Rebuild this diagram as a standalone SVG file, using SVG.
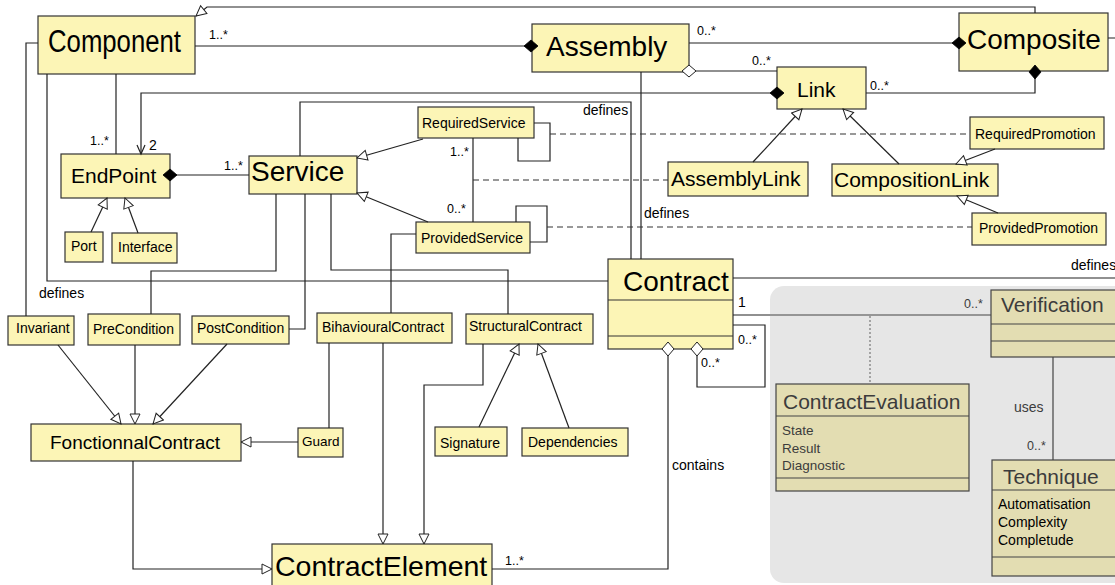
<svg xmlns="http://www.w3.org/2000/svg" width="1115" height="585" viewBox="0 0 1115 585">
<style>
text{font-family:"Liberation Sans",Arial,sans-serif;fill:#000}
.box{fill:#fcf5b6;stroke:#333;stroke-width:1.2}
.dim{fill:#e3ddb2;stroke:#444;stroke-width:1.2}
.sep{stroke:#333;stroke-width:1.2}
.dsep{stroke:#444;stroke-width:1.2}
.c{fill:none;stroke:#222;stroke-width:1.2}
.cg{fill:none;stroke:#444;stroke-width:1.2}
.dash{fill:none;stroke:#333;stroke-width:1.2;stroke-dasharray:6 4}
.dot{fill:none;stroke:#777;stroke-width:1.2;stroke-dasharray:2 2}
.g{fill:#3c3c3c}
.m{font-size:12.5px}
.l{font-size:14px}
.s14{font-size:14px}
.s21{font-size:21px}
.s28{font-size:28px}
</style>
<defs>
<marker id="tri" markerUnits="userSpaceOnUse" markerWidth="14" markerHeight="14" refX="11" refY="6" orient="auto"><path d="M1,1 L11,6 L1,11 z" fill="#fff" stroke="#222" stroke-width="1"/></marker>
<marker id="dia" markerUnits="userSpaceOnUse" markerWidth="18" markerHeight="14" refX="8" refY="7" orient="auto"><path d="M1,7 L8,1 L15,7 L8,13 z" fill="#000" stroke="#000" stroke-width="0.8"/></marker>
<marker id="hdia" markerUnits="userSpaceOnUse" markerWidth="18" markerHeight="14" refX="8" refY="7" orient="auto"><path d="M1,7 L8,1 L15,7 L8,13 z" fill="#fff" stroke="#222" stroke-width="1"/></marker>
<marker id="open" markerUnits="userSpaceOnUse" markerWidth="14" markerHeight="12" refX="10" refY="5" orient="auto"><path d="M1,1 L10,5 L1,9" fill="none" stroke="#222" stroke-width="1.2"/></marker>
</defs>
<rect x="0" y="0" width="1115" height="585" fill="#fff"/>
<rect id="panel" x="770" y="286" width="370" height="297" rx="14" fill="#e6e6e6"/>

<g id="Component"><rect class="box" x="38" y="16" width="157" height="58"/><text x="48" y="52" font-size="31" textLength="133" lengthAdjust="spacingAndGlyphs">Component</text></g>
<g id="Assembly"><rect class="box" x="532" y="24" width="157" height="48"/><text class="s28" x="546" y="56">Assembly</text></g>
<g id="Composite"><rect class="box" x="959" y="13" width="149" height="58"/><text class="s28" x="967" y="49">Composite</text></g>
<g id="Link"><rect class="box" x="777" y="67" width="89" height="42"/><text x="797" y="97" font-size="21">Link</text></g>
<g id="EndPoint"><rect class="box" x="61" y="154" width="109" height="44"/><text class="s21" x="71" y="183">EndPoint</text></g>
<g id="Service"><rect class="box" x="249" y="156" width="108" height="38"/><text class="s28" x="251" y="181">Service</text></g>
<g id="RequiredService"><rect class="box" x="418" y="107" width="116" height="31"/><text class="s14" x="422" y="128">RequiredService</text></g>
<g id="ProvidedService"><rect class="box" x="416" y="222" width="114" height="31"/><text class="s14" x="421" y="243">ProvidedService</text></g>
<g id="AssemblyLink"><rect class="box" x="668" y="162" width="140" height="34"/><text class="s21" x="671" y="186">AssemblyLink</text></g>
<g id="CompositionLink"><rect class="box" x="832" y="164" width="166" height="32"/><text class="s21" x="834" y="187">CompositionLink</text></g>
<g id="RequiredPromotion"><rect class="box" x="970" y="117" width="134" height="32"/><text class="s14" x="975" y="139">RequiredPromotion</text></g>
<g id="ProvidedPromotion"><rect class="box" x="972" y="213" width="134" height="32"/><text class="s14" x="979" y="233">ProvidedPromotion</text></g>
<g id="Port"><rect class="box" x="65" y="232" width="38" height="30"/><text class="s14" x="71" y="251">Port</text></g>
<g id="Interface"><rect class="box" x="112" y="233" width="65" height="30"/><text class="s14" x="118" y="252">Interface</text></g>
<g id="Invariant"><rect class="box" x="8" y="316" width="66" height="29"/><text class="s14" x="16" y="333">Invariant</text></g>
<g id="PreCondition"><rect class="box" x="88" y="314" width="92" height="31"/><text class="s14" x="93" y="334">PreCondition</text></g>
<g id="PostCondition"><rect class="box" x="192" y="316" width="97" height="28"/><text class="s14" x="197" y="333">PostCondition</text></g>
<g id="BihaviouralContract"><rect class="box" x="317" y="313" width="135" height="30"/><text class="s14" x="322" y="332">BihaviouralContract</text></g>
<g id="StructuralContract"><rect class="box" x="466" y="314" width="127" height="30"/><text class="s14" x="469" y="331">StructuralContract</text></g>
<g id="FonctionnalContract"><rect class="box" x="31" y="424" width="210" height="37"/><text x="50" y="449" font-size="19">FonctionnalContract</text></g>
<g id="Guard"><rect class="box" x="298" y="428" width="45" height="29"/><text x="302" y="446" font-size="13.5">Guard</text></g>
<g id="Signature"><rect class="box" x="435" y="427" width="72" height="29"/><text class="s14" x="440" y="448">Signature</text></g>
<g id="Dependencies"><rect class="box" x="522" y="428" width="106" height="28"/><text class="s14" x="528" y="447">Dependencies</text></g>
<g id="ContractElement"><rect class="box" x="272" y="544" width="220" height="50"/><text x="275" y="576" font-size="28.5">ContractElement</text></g>
<g id="Contract"><rect class="box" x="608" y="259" width="125" height="90"/><line class="sep" x1="608" y1="300" x2="733" y2="300"/><line class="sep" x1="608" y1="336" x2="733" y2="336"/><text class="s28" x="623" y="291">Contract</text></g>
<g id="Verification"><rect class="dim" x="991" y="290" width="140" height="67"/><line class="dsep" x1="991" y1="324" x2="1131" y2="324"/><line class="dsep" x1="991" y1="341" x2="1131" y2="341"/><text class="s21 g" x="1001" y="312">Verification</text></g>
<g id="ContractEvaluation"><rect class="dim" x="776" y="384" width="193" height="107"/><line class="dsep" x1="776" y1="416" x2="969" y2="416"/><line class="dsep" x1="776" y1="478" x2="969" y2="478"/><text class="s21 g" x="783" y="409">ContractEvaluation</text><text class="g" x="782" y="435" font-size="13.5">State</text><text class="g" x="782" y="453" font-size="13.5">Result</text><text class="g" x="782" y="470" font-size="13.5">Diagnostic</text></g>
<g id="Technique"><rect class="dim" x="992" y="460" width="140" height="116"/><line class="dsep" x1="992" y1="490" x2="1132" y2="490"/><line class="dsep" x1="992" y1="557" x2="1132" y2="557"/><text class="s21 g" x="1003" y="484">Technique</text><text class="s14" x="998" y="509" fill="#111">Automatisation</text><text class="s14" x="998" y="527">Complexity</text><text class="s14" x="998" y="545">Completude</text></g>

<g id="connectors">
<path class="c" d="M1035,13 L1035,7 L207,7 L196,16" marker-end="url(#tri)"/>
<path class="c" d="M195,46 L531,46" marker-end="url(#dia)"/>
<path class="c" d="M689,43 L959,43" marker-end="url(#dia)"/>
<path class="c" d="M689,71 L777,71" marker-start="url(#hdia)"/>
<path class="c" d="M866,93 L1035,93 L1035,72" marker-end="url(#dia)"/>
<path class="c" d="M777,93 L141,93 L141,154" marker-start="url(#dia)" marker-end="url(#open)"/>
<path class="c" d="M116,74 L116,154"/>
<path class="c" d="M170,175 L249,175" marker-start="url(#dia)"/>
<path class="c" d="M38,43 L26,43 L26,316"/>
<path class="c" d="M47,74 L47,281 L608,281"/>
<path class="c" d="M300,156 L300,102 L631,102 L631,259"/>
<path class="c" d="M641,72 L641,259"/>
<path class="c" d="M733,278 L1130,278 L1130,38 L1108,38"/>
<path class="c" d="M423,139 L357,158" marker-end="url(#tri)"/>
<path class="c" d="M428,222 L357,193" marker-end="url(#tri)"/>
<path class="c" d="M473,138 L473,222"/>
<path class="dash" d="M473,180 L668,180"/>
<path class="c" d="M534,123 L550,123 L550,161 L518,161 L518,138"/>
<path class="dash" d="M550,134 L970,134"/>
<path class="c" d="M530,242 L547,242 L547,206 L516,206 L516,222"/>
<path class="dash" d="M547,227 L972,227"/>
<path class="c" d="M753,162 L802,109" marker-end="url(#tri)"/>
<path class="c" d="M899,164 L843,109" marker-end="url(#tri)"/>
<path class="c" d="M995,149 L956,164" marker-end="url(#tri)"/>
<path class="c" d="M998,213 L957,196" marker-end="url(#tri)"/>
<path class="c" d="M91,232 L107,198" marker-end="url(#tri)"/>
<path class="c" d="M138,233 L125,198" marker-end="url(#tri)"/>
<path class="c" d="M276,194 L276,271 L151,271 L151,314"/>
<path class="c" d="M305,194 L305,329 L289,329"/>
<path class="c" d="M331,194 L331,270 L508,270 L508,314"/>
<path class="c" d="M416,234 L391,234 L391,313"/>
<path class="c" d="M329,343 L329,428"/>
<path class="c" d="M298,442 L241,442" marker-end="url(#tri)"/>
<path class="c" d="M58,345 L121,424" marker-end="url(#tri)"/>
<path class="c" d="M135,345 L135,424" marker-end="url(#tri)"/>
<path class="c" d="M227,344 L153,424" marker-end="url(#tri)"/>
<path class="c" d="M133,461 L133,569 L272,569" marker-end="url(#tri)"/>
<path class="c" d="M383,343 L383,544" marker-end="url(#tri)"/>
<path class="c" d="M483,344 L483,385 L424,385 L424,544" marker-end="url(#tri)"/>
<path class="c" d="M479,427 L519,344" marker-end="url(#tri)"/>
<path class="c" d="M569,428 L538,344" marker-end="url(#tri)"/>
<path class="c" d="M668,349 L668,569 L492,569" marker-start="url(#hdia)"/>
<path class="c" d="M697,349 L697,387 L765,387 L765,325 L733,325" marker-start="url(#hdia)"/>
<path class="c" d="M733,315 L770,315"/>
<path class="cg" d="M770,315 L991,315"/>
<path class="dot" d="M870,316 L870,384"/>
<path class="cg" d="M1053,357 L1053,460"/>
</g>

<g id="labels">
<text class="m" x="209" y="39">1..*</text>
<text class="m" x="697" y="35">0..*</text>
<text class="m" x="752" y="65">0..*</text>
<text class="m" x="870" y="90">0..*</text>
<text class="m" x="90" y="145">1..*</text>
<text class="l" x="149" y="150">2</text>
<text class="m" x="224" y="170">1..*</text>
<text class="m" x="450" y="156">1..*</text>
<text class="m" x="447" y="213">0..*</text>
<text class="l" x="738" y="307">1</text>
<text class="m" x="738" y="344">0..*</text>
<text class="m" x="701" y="367">0..*</text>
<text class="m g" x="964" y="308">0..*</text>
<text class="m" x="505" y="565">1..*</text>
<text class="m g" x="1027" y="450">0..*</text>
<text class="l g" x="1014" y="412">uses</text>
<text class="l" x="583" y="115">defines</text>
<text class="l" x="644" y="218">defines</text>
<text class="l" x="39" y="298">defines</text>
<text class="l" x="1071" y="270">defines</text>
<text class="l" x="672" y="470">contains</text>
</g>
</svg>
